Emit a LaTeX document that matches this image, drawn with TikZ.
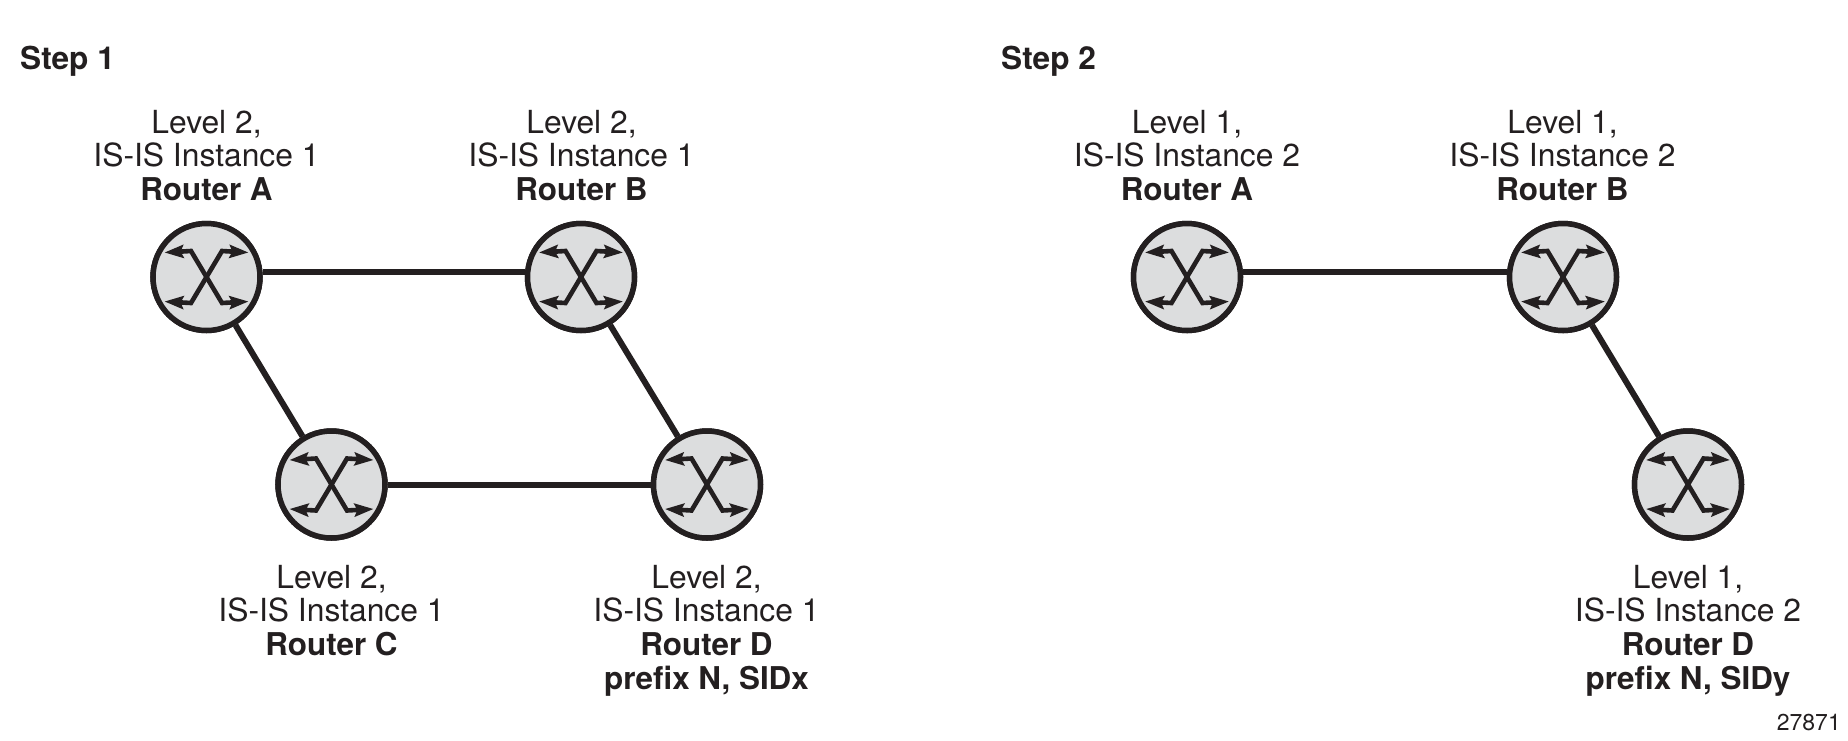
\documentclass[tikz,border=0pt]{standalone}
\usepackage{fontspec}
\setmainfont{TeX Gyre Heros}
\usetikzlibrary{arrows.meta}
\definecolor{ink}{HTML}{231F20}
\definecolor{disc}{HTML}{DCDDDE}
\newcommand{\bld}[1]{{\fontsize{31.4}{33.6}\selectfont\bfseries #1}}
\tikzset{
  router/.style={circle,draw=ink,fill=disc,line width=5.5pt,minimum size=107pt,inner sep=0pt},
  link/.style={draw=ink,line width=6pt},
  swarrow/.style={draw=ink,line width=4.6pt,line join=miter,{Stealth[length=19pt,width=13pt,inset=3pt]}-{Stealth[length=19pt,width=13pt,inset=3pt]}},
  lab/.style={align=center,inner sep=0pt,text=ink,font=\fontsize{31.8}{33.6}\selectfont},
  up/.style={lab,anchor=south},
  down/.style={lab,anchor=north},
  steplab/.style={anchor=base west,inner sep=0pt,text=ink,font=\fontsize{31.6}{34}\selectfont\bfseries},
  fignum/.style={anchor=base east,inner sep=0pt,text=ink,font=\fontsize{23}{26}\selectfont}
}
\newcommand{\xmark}[1]{%
  \begin{scope}[shift={(#1.center)}]
    \draw[swarrow] (-42,-24.5) -- (-15.5,-26) -- (15.5,26) -- (42,24.5);
    \draw[swarrow] (42,-24.5) -- (15.5,-26) -- (-15.5,26) -- (-42,24.5);
  \end{scope}}
\begin{document}
\begin{tikzpicture}[x=1pt,y=-1pt]
\useasboundingbox (0,0) rectangle (1848,740);
\node[steplab] (s1) at (20,69) {Step 1};
\node[steplab] (s2) at (1001,69) {Step 2};
\node[fignum] (fig) at (1841,730) {27871};
% Step 1
\node[router] (a1) at (206.5,277) {};
\node[router] (b1) at (581,277) {};
\node[router] (c1) at (331.5,484.5) {};
\node[router] (d1) at (707,484.5) {};
\draw[link] ([yshift=5.5pt]a1.east) -- ([yshift=5.5pt]b1.west);
\draw[link] (a1) -- (c1);
\draw[link] (b1) -- (d1);
\draw[link] (c1) -- (d1);
\node[router] at (a1) {};
\node[router] at (b1) {};
\node[router] at (c1) {};
\node[router] at (d1) {};
\foreach \n in {a1,b1,c1,d1} {\xmark{\n}}
\node[up] (la1) at (206.5,201) {Level 2,\\IS-IS Instance 1\\\bld{Router A}};
\node[up] (lb1) at (581.5,201) {Level 2,\\IS-IS Instance 1\\\bld{Router B}};
\node[down] (lc1) at (331.5,565) {Level 2,\\IS-IS Instance 1\\\bld{Router C}};
\node[down] (ld1) at (706.5,565) {Level 2,\\IS-IS Instance 1\\\bld{Router D}\\\bld{prefix N, SIDx}};
% Step 2
\node[router] (a2) at (1187,277) {};
\node[router] (b2) at (1563,277) {};
\node[router] (d2) at (1688,484.5) {};
\draw[link] ([yshift=5.5pt]a2.east) -- ([yshift=5.5pt]b2.west);
\draw[link] (b2) -- (d2);
\node[router] at (a2) {};
\node[router] at (b2) {};
\node[router] at (d2) {};
\foreach \n in {a2,b2,d2} {\xmark{\n}}
\node[up] (la2) at (1187,201) {Level 1,\\IS-IS Instance 2\\\bld{Router A}};
\node[up] (lb2) at (1562.5,201) {Level 1,\\IS-IS Instance 2\\\bld{Router B}};
\node[down] (ld2) at (1688,565) {Level 1,\\IS-IS Instance 2\\\bld{Router D}\\\bld{prefix N, SIDy}};
\end{tikzpicture}
\end{document}
